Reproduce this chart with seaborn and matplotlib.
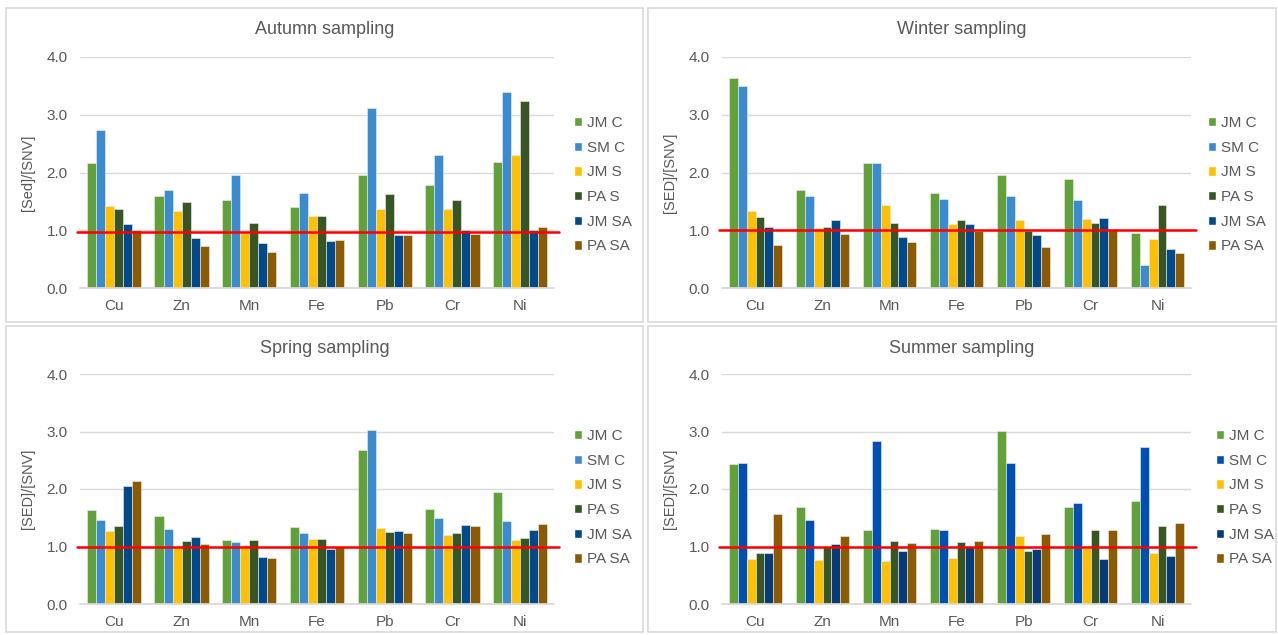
import numpy as np
import pandas as pd
import matplotlib
matplotlib.use("Agg")
import matplotlib.pyplot as plt
from matplotlib.patches import Rectangle
import seaborn as sns

sns.set_theme(style="white")
plt.rcParams["font.family"] = ["Liberation Sans", "DejaVu Sans"]

metals = ["Cu", "Zn", "Mn", "Fe", "Pb", "Cr", "Ni"]
series = ["JM C", "SM C", "JM S", "PA S", "JM SA", "PA SA"]

# ratio values per series, ordered as in `metals`
autumn = {
    "JM C":  [2.17, 1.60, 1.53, 1.40, 1.96, 1.79, 2.19],
    "SM C":  [2.74, 1.69, 1.96, 1.64, 3.11, 2.30, 3.39],
    "JM S":  [1.42, 1.33, 0.96, 1.25, 1.37, 1.36, 2.30],
    "PA S":  [1.36, 1.49, 1.13, 1.25, 1.63, 1.53, 3.24],
    "JM SA": [1.10, 0.87, 0.78, 0.81, 0.91, 1.00, 1.01],
    "PA SA": [1.00, 0.73, 0.63, 0.83, 0.92, 0.94, 1.06],
}
winter = {
    "JM C":  [3.64, 1.70, 2.16, 1.65, 1.96, 1.89, 0.95],
    "SM C":  [3.49, 1.60, 2.17, 1.54, 1.59, 1.52, 0.40],
    "JM S":  [1.34, 1.04, 1.43, 1.11, 1.17, 1.19, 0.85],
    "PA S":  [1.23, 1.05, 1.12, 1.18, 0.98, 1.13, 1.43],
    "JM SA": [1.06, 1.18, 0.89, 1.11, 0.91, 1.22, 0.68],
    "PA SA": [0.74, 0.93, 0.79, 0.99, 0.71, 1.03, 0.61],
}
spring = {
    "JM C":  [1.64, 1.53, 1.11, 1.34, 2.68, 1.65, 1.94],
    "SM C":  [1.46, 1.30, 1.07, 1.23, 3.03, 1.49, 1.44],
    "JM S":  [1.27, 0.99, 1.02, 1.13, 1.32, 1.20, 1.11],
    "PA S":  [1.35, 1.09, 1.11, 1.13, 1.25, 1.23, 1.14],
    "JM SA": [2.06, 1.17, 0.81, 0.95, 1.27, 1.37, 1.28],
    "PA SA": [2.14, 1.05, 0.80, 0.99, 1.23, 1.35, 1.39],
}
summer = {
    "JM C":  [2.43, 1.68, 1.29, 1.31, 3.01, 1.68, 1.80],
    "SM C":  [2.46, 1.46, 2.83, 1.28, 2.45, 1.76, 2.73],
    "JM S":  [0.79, 0.77, 0.75, 0.80, 1.19, 0.98, 0.89],
    "PA S":  [0.89, 0.99, 1.09, 1.07, 0.93, 1.29, 1.35],
    "JM SA": [0.89, 1.04, 0.93, 0.99, 0.96, 0.78, 0.83],
    "PA SA": [1.56, 1.18, 1.06, 1.09, 1.22, 1.28, 1.41],
}

titles = ["Autumn sampling", "Winter sampling", "Spring sampling", "Summer sampling"]
ylabels = ["[Sed]/[SNV]", "[SED]/[SNV]", "[SED]/[SNV]", "[SED]/[SNV]"]
thresholds = [0.97, 1.0, 1.0, 1.0]
datasets = [autumn, winter, spring, summer]

palette_a = ["#62A03A", "#3A8BD0", "#FFC000", "#375623", "#004A8B", "#8C5A00"]
palette_b = ["#62A03A", "#0050B4", "#FFC000", "#375623", "#063A78", "#8C5A00"]
palettes = [palette_a, palette_a, palette_a, palette_b]

W, H = 1278, 635
fig = plt.figure(figsize=(W / 100, H / 100), dpi=100)
TXT = "#595959"
GRID = "#D9D9D9"

# panel frames (pixels: left, top, right, bottom)
frames = [(6, 8, 643, 322), (648, 8, 1276, 322), (6, 326, 643, 632), (648, 326, 1276, 632)]
# plotting areas (pixels: left, top(4.0), right, bottom(0.0))
areas = [(80, 57, 554, 288), (722, 57, 1191, 288), (80, 374, 554, 604), (722, 374, 1191, 604)]
legend_pos = [(574, 116), (1208, 116), (574, 429), (1216, 429)]


def fx(px):
    return px / W


def fy(py):
    return 1 - py / H


for i in range(4):
    l, t, r, b = frames[i]
    fig.patches.append(Rectangle((fx(l), fy(b)), fx(r - l), (b - t) / H,
                                 transform=fig.transFigure, fill=False,
                                 edgecolor="#D9D9D9", linewidth=1.2, zorder=0))
    al, at, ar, ab = areas[i]
    ax = fig.add_axes([fx(al), fy(ab), fx(ar - al), (ab - at) / H])

    rows = []
    for s in series:
        for m, v in zip(metals, datasets[i][s]):
            rows.append({"metal": m, "series": s, "value": v})
    df = pd.DataFrame(rows)

    sns.barplot(data=df, x="metal", y="value", hue="series", order=metals,
                hue_order=series, palette=palettes[i], width=0.8, ax=ax,
                saturation=1, linewidth=0.4, edgecolor="#EFEFEF", zorder=3)

    ax.set_ylim(0, 4)
    ax.set_yticks([0, 1, 2, 3, 4])
    ax.set_yticklabels(["0.0", "1.0", "2.0", "3.0", "4.0"])
    ax.set_xlim(-0.5, 6.5)
    for y in [1, 2, 3, 4]:
        ax.axhline(y, color=GRID, linewidth=1.0, zorder=1)
    ax.axhline(0, color=GRID, linewidth=1.3, zorder=4, clip_on=False)
    ax.axhline(thresholds[i], xmin=-0.007, xmax=1.01, color="#FF0000",
               linewidth=1.8, zorder=5, clip_on=False)
    for sp in ax.spines.values():
        sp.set_visible(False)
    ax.tick_params(axis="both", length=0, colors=TXT, labelsize=11)
    ax.tick_params(axis="y", pad=9)
    ax.tick_params(axis="x", pad=8)
    ax.set_xlabel("")
    ax.set_ylabel(ylabels[i], color=TXT, fontsize=10.5, labelpad=8)
    ax.grid(False)
    ax.legend_.remove()

    fl, ft, fr, fb = frames[i]
    fig.text(fx((fl + fr) / 2), fy(ft + 22), titles[i], ha="center", va="center",
             fontsize=13, color=TXT)

    # legend entries stacked vertically
    lx, ly = legend_pos[i]
    handles = [Rectangle((0, 0), 1, 1, facecolor=c) for c in palettes[i]]
    fig.legend(handles, series, loc="upper left",
               bbox_to_anchor=(fx(lx), fy(ly)), frameon=False,
               handlelength=0.55, handleheight=0.55, handletextpad=0.3,
               labelspacing=0.7, fontsize=11, labelcolor=TXT,
               borderaxespad=0, borderpad=0)

fig.savefig("out.png", dpi=100, facecolor="white")
